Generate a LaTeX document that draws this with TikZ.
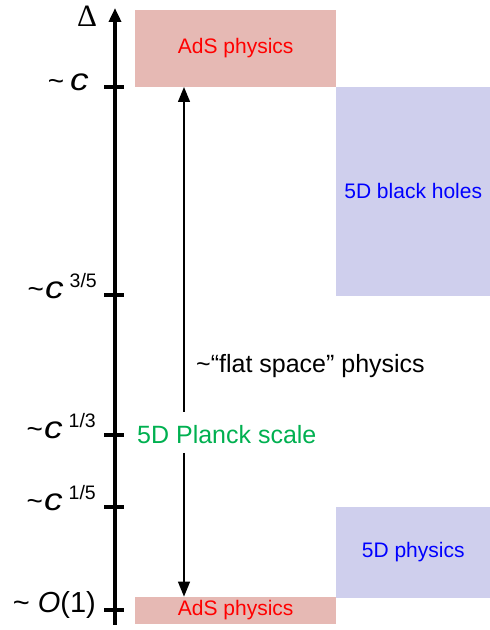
\documentclass[tikz,border=0pt]{standalone}
\usepackage{fontspec}
\setmainfont{Liberation Sans}
\newfontfamily\serifgreek{Liberation Serif}
\usetikzlibrary{arrows.meta}
\definecolor{adsfill}{RGB}{230,185,180}
\definecolor{bhfill}{RGB}{207,207,237}
\definecolor{plgreen}{RGB}{0,176,80}
\tikzset{
  redbox/.style={fill=adsfill, draw=none, inner sep=0pt, anchor=south west, text=red, font=\fontsize{21}{21}\selectfont},
  bluebox/.style={fill=bhfill, draw=none, inner sep=0pt, anchor=south west, text=blue, font=\fontsize{21}{21}\selectfont},
  ticklabel/.style={anchor=mid east, inner sep=0pt, font=\fontsize{28}{28}\selectfont},
  tickmark/.style={line width=3.5pt},
  axisline/.style={line width=3.5pt, -{Triangle[width=12pt,length=14pt]}},
  thinarrow/.style={line width=1.3pt, -{Triangle[width=12pt,length=15pt]}},
}
\newcommand{\cvar}{{\fontsize{31}{31}\selectfont\scalebox{1.2}[1]{\textit{c}}}}
\newcommand{\supx}[1]{\hspace{6pt}\raisebox{11pt}{\fontsize{19.5}{19.5}\selectfont #1}}
\begin{document}
\begin{tikzpicture}[x=1pt,y=1pt]
\useasboundingbox (0,0) rectangle (490,630);
% boxes
\node[redbox, minimum width=201pt, minimum height=77pt] (ads1) at (135,543) {AdS physics};
\node[bluebox, minimum width=154pt, minimum height=209pt] (bh) at (336,334) {5D black holes};
\node[bluebox, minimum width=154pt, minimum height=91pt] (fived) at (336,32) {5D physics};
\node[redbox, minimum width=201pt, minimum height=27pt] (ads2) at (135,6) {AdS physics};
% axis
\coordinate (axb) at (115,5);
\coordinate (axt) at (115,622);
\draw[axisline] (axb) -- (axt);
\node[inner sep=0pt, font=\serifgreek\fontsize{31}{31}\selectfont] (delta) at (87,614) {Δ};
% ticks
\foreach \n/\yy in {tc/543, tb/335, tt/195, tf/123, to/20}{
  \coordinate (\n) at (115,\yy);
  \draw[tickmark] ([xshift=-11pt]\n) -- ([xshift=9pt]\n);
}
\node[ticklabel] (lc) at (89,542) {\textasciitilde{}\hspace{6pt}\cvar};
\node[ticklabel] (l35) at (97,334) {\textasciitilde\hspace{1pt}\cvar\supx{3/5}};
\node[ticklabel] (l13) at (96,194) {\textasciitilde\hspace{1pt}\cvar\supx{1/3}};
\node[ticklabel] (l15) at (96,122) {\textasciitilde\hspace{1pt}\cvar\supx{1/5}};
\node[ticklabel, font=\fontsize{29}{29}\selectfont] (lo) at (96,20) {\textasciitilde{} \textit{O}(1)};
% arrows
\coordinate (gapA) at (184,218);
\coordinate (gapB) at (184,177);
\draw[thinarrow] (gapA) -- (ads1.south -| gapA);
\draw[thinarrow] (gapB) -- (ads2.north -| gapB);
% labels
\node[anchor=west, inner sep=0pt, font=\fontsize{25}{25}\selectfont] (flat) at (196,264) {\textasciitilde{}“flat space” physics};
\node[anchor=west, inner sep=0pt, text=plgreen, font=\fontsize{25}{25}\selectfont] (planck) at (137,195) {5D Planck scale};
\end{tikzpicture}
\end{document}
